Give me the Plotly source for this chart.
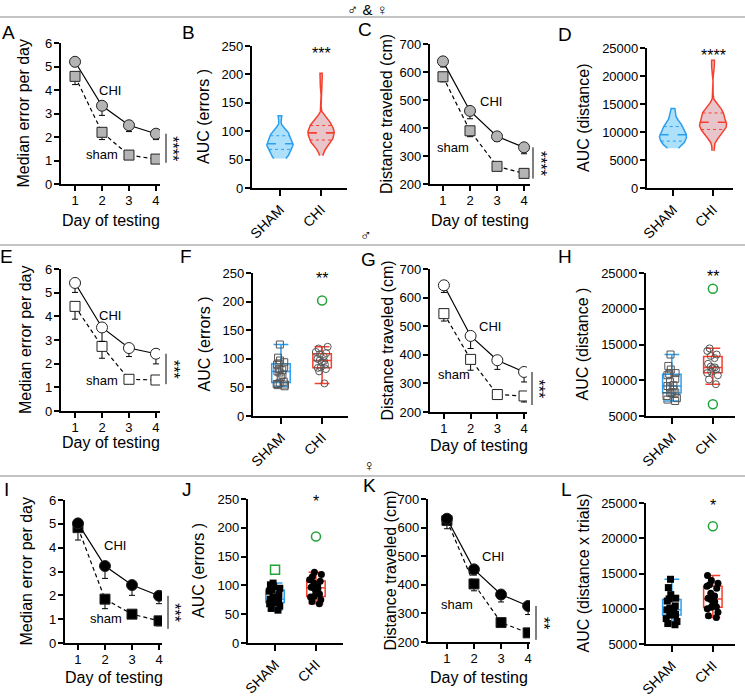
import numpy as np
import plotly.graph_objects as go

W, H = 745, 699
FONT = "Liberation Sans, Arial, Helvetica, sans-serif"

days = [1, 2, 3, 4]
day_ticks = ["1", "2", "3", "4"]
groups = ["SHAM", "CHI"]

# ---- line panels (mean, downward error) ----
A_chi = [5.20, 3.33, 2.50, 2.14]
A_chi_err = [0.20, 0.41, 0.27, 0.25]
A_sham = [4.58, 2.20, 1.23, 1.06]
A_sham_err = [0.35, 0.31, 0.04, 0.03]

C_chi = [638, 461, 370, 331]
C_chi_err = [20, 28, 18, 23]
C_sham = [583, 390, 263, 238]
C_sham_err = [18, 21, 8, 8]

E_chi = [5.41, 3.53, 2.66, 2.42]
E_chi_err = [0.40, 0.59, 0.36, 0.43]
E_sham = [4.42, 2.73, 1.34, 1.31]
E_sham_err = [0.54, 0.50, 0.05, 0.05]

G_chi = [643, 466, 381, 340]
G_chi_err = [25, 44, 32, 35]
G_sham = [544, 384, 261, 256]
G_sham_err = [26, 38, 11, 21]

I_chi = [5.02, 3.23, 2.43, 1.98]
I_chi_err = [0.28, 0.52, 0.43, 0.33]
I_sham = [4.84, 1.84, 1.21, 0.93]
I_sham_err = [0.52, 0.40, 0.08, 0.21]

K_chi = [631, 454, 366, 326]
K_chi_err = [15, 20, 26, 30]
K_sham = [625, 403, 268, 232]
K_sham_err = [29, 24, 8, 14]

# ---- individual AUC values ----
F_sham = [52, 54, 55, 56, 58, 60, 68, 72, 76, 78, 80, 82, 85, 90, 92, 94, 97, 102, 125]
F_chi = [57, 78, 82, 84, 85, 90, 94, 96, 98, 100, 104, 108, 110, 112, 118, 121]
F_chi_out = [202]
J_sham = [57, 60, 64, 68, 70, 72, 73, 75, 76, 76, 78, 80, 84, 90, 92, 95, 98, 101, 104]
J_sham_out = [127]
J_chi = [68, 72, 75, 80, 81, 85, 90, 94, 96, 97, 100, 104, 107, 110, 115, 119, 123]
J_chi_out = [185]
H_sham = [7100, 7300, 7500, 7800, 8200, 8260, 8300, 8700, 9000, 9200, 9300, 9800,
          10200, 10700, 10900, 11000, 11500, 12000, 13600]
H_chi = [9450, 10100, 10700, 11000, 11200, 11500, 11700, 11800, 11900, 12300, 13100,
         13400, 13600, 14100, 14460]
H_chi_out = [22800, 6640]
L_sham = [7730, 7900, 8200, 8600, 9100, 9180, 9300, 9400, 9600, 9850, 9900, 10100,
          10400, 11100, 11400, 11500, 12000, 13000, 14180]
L_chi = [8770, 9000, 9500, 10000, 10200, 10300, 10500, 11000, 11300, 11500, 11800,
         12200, 12900, 13200, 13400, 13600, 14000, 14700]
L_chi_out = [21700]

BLUE = "#2a9ff0"
BLUE_FILL = "#ade0fa"
RED = "#f5402f"
RED_FILL = "#e8c5ca"
GREEN = "#22a33a"

fig = go.Figure()
ann = []
shp = []


def names(n):
    s = "" if n == 1 else str(n)
    return "x" + s, "y" + s, "xaxis" + s, "yaxis" + s


def axes(n, box, xr, yr, dtick, cat=False):
    x0, x1, yt, yb = box
    xa, ya, xk, yk = names(n)
    base = dict(showline=True, linecolor="black", linewidth=2.2, ticks="outside",
                ticklen=5, tickwidth=2, tickcolor="black", showgrid=False,
                zeroline=False, fixedrange=True, automargin=False,
                tickfont=dict(family=FONT, size=13, color="black"))
    if cat:
        xax = dict(base, tickvals=[0, 1], ticktext=groups, tickangle=-45, ticklen=6,
                   tickfont=dict(family=FONT, size=14, color="black"))
    else:
        xax = dict(base, tickvals=days, ticktext=day_ticks, ticklabelstandoff=-2)
    xax.update(domain=[x0 / W, x1 / W], range=xr, anchor=ya)
    yax = dict(base, domain=[1 - yb / H, 1 - yt / H], range=yr, anchor=xa,
               tick0=yr[0], dtick=dtick, tickformat="d", ticklabelstandoff=-1)
    fig.update_layout(**{xk: xax, yk: yax})
    return xa, ya


def text(x, y, s, size=16, angle=0):
    ann.append(dict(x=x / W, y=1 - y / H, xref="paper", yref="paper", text=s,
                    showarrow=False, textangle=angle, xanchor="center", yanchor="middle",
                    font=dict(family=FONT, size=size, color="black")))


def py_of(val, yr, yt, yb):
    return yt + (yr[1] - val) / (yr[1] - yr[0]) * (yb - yt)


def line_panel(n, box, xr, yr, dtick, chi, chi_err, sham, sham_err, fill, ylab,
               ylab_x, xlab_y, chi_lbl, sham_lbl, sig_x, stars):
    xa, ya = axes(n, box, xr, yr, dtick)
    x0, x1, yt, yb = box
    fig.add_trace(go.Scatter(
        x=days, y=sham, xaxis=xa, yaxis=ya, mode="lines+markers",
        line=dict(color="black", width=1.2, dash="4px,3px"),
        marker=dict(symbol="square", size=10, color=fill, line=dict(color="#222", width=1)),
        error_y=dict(type="data", symmetric=False, array=[0] * 4, arrayminus=sham_err,
                     color="black", thickness=1, width=3)))
    fig.add_trace(go.Scatter(
        x=days, y=chi, xaxis=xa, yaxis=ya, mode="lines+markers",
        line=dict(color="black", width=1.2),
        marker=dict(symbol="circle", size=11, color=fill, line=dict(color="#222", width=1)),
        error_y=dict(type="data", symmetric=False, array=[0] * 4, arrayminus=chi_err,
                     color="black", thickness=1, width=3)))
    text(ylab_x, (yt + yb) / 2, ylab, 16, -90)
    text((x0 + x1) / 2, xlab_y, "Day of testing", 16)
    for lbl, pos in (("CHI", chi_lbl), ("sham", sham_lbl)):
        ann.append(dict(x=pos[0], y=pos[1], xref=xa, yref=ya, text=lbl, showarrow=False,
                        font=dict(family=FONT, size=13, color="black")))
    y1 = py_of(chi[3], yr, yt, yb)
    y2 = py_of(sham[3] - sham_err[3], yr, yt, yb) + 3
    shp.append(dict(type="line", xref="paper", yref="paper", x0=sig_x / W, x1=sig_x / W,
                    y0=1 - y1 / H, y1=1 - y2 / H, line=dict(color="black", width=1)))
    text(sig_x + 7, (y1 + y2) / 2, stars, 16, 90)


def kde(vals, halfw, bw_scale=0.75):
    v = np.asarray(vals, float)
    n = len(v)
    sd = v.std(ddof=1)
    q1, q3 = np.percentile(v, [25, 75])
    bw = 1.059 * min(sd, (q3 - q1) / 1.349) * n ** -0.2 * bw_scale
    ys = np.linspace(v.min(), v.max(), 240)
    dens = np.exp(-0.5 * ((ys[:, None] - v[None, :]) / bw) ** 2).sum(1)
    dens = dens / dens.max()
    return ys, dens * halfw


def violin_panel(n, box, xr, yr, dtick, sham, chi, ylab, ylab_x, stars, star_y, halfw):
    xa, ya = axes(n, box, xr, yr, dtick, cat=True)
    x0, x1, yt, yb = box
    for pos, vals, lc, fc in ((0, sham, BLUE, BLUE_FILL), (1, chi, RED, RED_FILL)):
        ys, w = kde(vals, halfw)
        xs = np.concatenate([pos + w, (pos - w)[::-1]])
        yy = np.concatenate([ys, ys[::-1]])
        fig.add_trace(go.Scatter(x=xs, y=yy, xaxis=xa, yaxis=ya, mode="lines",
                                 fill="toself", fillcolor=fc,
                                 line=dict(color=lc, width=1.5)))
        q1, med, q3 = np.percentile(vals, [25, 50, 75])
        for q, dash, lw in ((q1, "dot", 1), (med, "dash", 1.6), (q3, "dot", 1)):
            hw = float(np.interp(q, ys, w))
            fig.add_trace(go.Scatter(x=[pos - hw, pos + hw], y=[q, q], xaxis=xa, yaxis=ya,
                                     mode="lines", line=dict(color=lc, width=lw, dash=dash)))
    text(ylab_x, (yt + yb) / 2, ylab, 16, -90)
    ann.append(dict(x=1, y=star_y, xref=xa, yref=ya, text=stars, showarrow=False,
                    font=dict(family=FONT, size=16, color="black")))


def box_panel(n, box, xr, yr, dtick, sham, chi, sham_out, chi_out, filled, ylab,
              ylab_x, stars, star_y):
    xa, ya = axes(n, box, xr, yr, dtick, cat=True)
    x0, x1, yt, yb = box
    for pos, vals, col, sym in ((0, sham, BLUE, "square"), (1, chi, RED, "circle")):
        if filled:
            mk = dict(symbol=sym, size=7, color="black")
        else:
            mk = dict(symbol=sym + "-open", size=7, color="#555", line=dict(width=1))
        fig.add_trace(go.Box(x=[pos] * len(vals), y=vals, xaxis=xa, yaxis=ya, width=0.45,
                             boxpoints="all", jitter=0.75, pointpos=0, whiskerwidth=0.8,
                             line=dict(color=col, width=1.5), fillcolor="rgba(0,0,0,0)",
                             marker=mk))
    for pos, outs, sym in ((0, sham_out, "square-open"), (1, chi_out, "circle-open")):
        if outs:
            fig.add_trace(go.Scatter(x=[pos] * len(outs), y=outs, xaxis=xa, yaxis=ya,
                                     mode="markers",
                                     marker=dict(symbol=sym, size=9, color=GREEN,
                                                 line=dict(width=1.5))))
    text(ylab_x, (yt + yb) / 2, ylab, 16, -90)
    ann.append(dict(x=1, y=star_y, xref=xa, yref=ya, text=stars, showarrow=False,
                    font=dict(family=FONT, size=16, color="black")))


# ---- row 1 : both sexes ----
line_panel(1, (61, 160, 43, 184), [0.48, 4.15], [0, 6], 1, A_chi, A_chi_err, A_sham,
           A_sham_err, "#b4b4b4", "Median error per day", 23, 220, (2.3, 4.0),
           (2.0, 1.25), 166, "****")
violin_panel(2, (252, 347, 46, 188), [-0.68, 1.63], [0, 250], 50,
             F_sham + J_sham + J_sham_out, F_chi + J_chi + F_chi_out + J_chi_out,
             "AUC (errors )", 203, "***", 236, 0.32)
line_panel(3, (430, 530, 44, 184), [0.52, 4.22], [200, 700], 100, C_chi, C_chi_err,
           C_sham, C_sham_err, "#b4b4b4", "Distance traveled (cm)", 387, 220,
           (2.78, 496), (1.37, 330), 533, "****")
violin_panel(4, (647, 733, 48, 188), [-0.65, 1.5], [0, 25000], 5000,
             H_sham + L_sham, H_chi + L_chi + H_chi_out + L_chi_out,
             "AUC (distance)", 583, "****", 23600, 0.34)

# ---- row 2 : males ----
line_panel(5, (61, 160, 269, 411), [0.48, 4.15], [0, 6], 1, E_chi, E_chi_err, E_sham,
           E_sham_err, "white", "Median error per day", 25, 442, (2.3, 4.04),
           (2.0, 1.29), 166, "***")
box_panel(6, (253, 348, 273, 416), [-0.68, 1.63], [0, 250], 50, F_sham, F_chi, [],
          F_chi_out, False, "AUC (errors )", 204, "**", 240)
line_panel(7, (430, 527, 269, 412), [0.48, 4.11], [200, 700], 100, G_chi, G_chi_err,
           G_sham, G_sham_err, "white", "Distance traveled (cm)", 387, 445,
           (2.72, 499), (1.37, 332), 532, "***")
box_panel(8, (646, 735, 273, 416), [-0.63, 1.54], [5000, 25000], 5000, H_sham, H_chi,
          [], H_chi_out, False, "AUC (distance )", 582, "**", 24500)

# ---- row 3 : females ----
line_panel(9, (65, 162, 500, 643), [0.52, 4.11], [0, 6], 1, I_chi, I_chi_err, I_sham,
           I_sham_err, "black", "Median error per day", 26, 677, (2.37, 4.08),
           (2.04, 1.02), 168, "***")
box_panel(10, (248, 343, 499, 643), [-0.66, 1.66], [0, 250], 50, J_sham, J_chi,
          J_sham_out, J_chi_out, True, "AUC (errors )", 198, "*", 245)
line_panel(11, (428, 530, 499, 642), [0.3, 4.07], [200, 700], 100, K_chi, K_chi_err,
           K_sham, K_sham_err, "black", "Distance traveled (cm)", 390, 677,
           (2.7, 499), (1.37, 332), 536, "**")
box_panel(12, (646, 735, 503, 644), [-0.63, 1.54], [5000, 25000], 5000, L_sham, L_chi,
          [], L_chi_out, True, "AUC (distance x trials)", 583, "*", 24600)

# ---- headers, separators, panel letters ----
for y in (17, 245, 476):
    shp.append(dict(type="line", xref="paper", yref="paper", x0=0, x1=1,
                    y0=1 - y / H, y1=1 - y / H, line=dict(color="#8a8a8a", width=1.2)))
text(367, 9, "♂ & ♀", 15)
text(366, 235, "♂", 16)
text(369, 465, "♀", 16)
letters = [("A", 8, 33), ("B", 188, 33), ("C", 365, 30), ("D", 565, 34),
           ("E", 6, 256), ("F", 186, 256), ("G", 368, 259), ("H", 565, 257),
           ("I", 6, 489), ("J", 187, 489), ("K", 369, 485), ("L", 566, 489)]
for s, x, y in letters:
    text(x, y, s, 19)

fig.update_layout(width=W, height=H, margin=dict(l=0, r=0, t=0, b=0, autoexpand=False),
                  paper_bgcolor="white", plot_bgcolor="white", showlegend=False,
                  hovermode=False, annotations=ann, shapes=shp,
                  font=dict(family=FONT, color="black"))
fig.write_html("out.html", config={"displayModeBar": False},
               post_script="document.body.style.margin='0px';document.body.style.overflow='hidden';")
